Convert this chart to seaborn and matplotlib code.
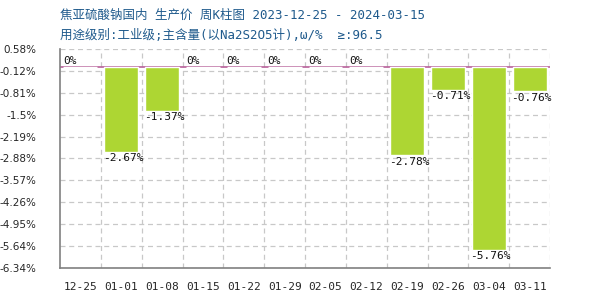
import matplotlib
matplotlib.use("Agg")
import matplotlib.pyplot as plt
import seaborn as sns
import pandas as pd

dates = ["12-25", "01-01", "01-08", "01-15", "01-22", "01-29", "02-05", "02-12",
         "02-19", "02-26", "03-04", "03-11"]
values = [0, -2.67, -1.37, 0, 0, 0, 0, 0, -2.78, -0.71, -5.76, -0.76]
yticks = [0.58, -0.12, -0.81, -1.5, -2.19, -2.88, -3.57, -4.26, -4.95, -5.64, -6.34]
title1 = "焦亚硫酸钠国内 生产价 周K柱图 2023-12-25 - 2024-03-15"
title2 = "用途级别:工业级;主含量(以Na2S2O5计),ω/%  ≥:96.5"

sns.set_style("white")
plt.rcParams['font.family'] = ['Noto Sans CJK SC', 'DejaVu Sans']
MIX = ['DejaVu Sans Mono', 'Noto Sans CJK SC']

df = pd.DataFrame({"date": dates, "value": values})

fig = plt.figure(figsize=(6, 3), dpi=100)
ax = fig.add_axes([0.1, 0.107, 0.817, 0.73])

sns.barplot(data=df, x="date", y="value", color="#add633", width=0.83,
            saturation=1, ax=ax, zorder=3)

ax.set_xlim(-0.5, len(dates) - 0.5)
ax.set_ylim(yticks[-1], yticks[0])
ax.set_yticks(yticks)
ax.set_yticklabels([f"{t:g}%" for t in yticks], family="DejaVu Sans", fontsize=7.5)
ax.set_xticks(range(len(dates)))
ax.set_xticklabels(dates, family="DejaVu Sans Mono", fontsize=8)
ax.tick_params(axis="both", length=0)
ax.tick_params(axis="x", pad=10)
ax.tick_params(axis="y", pad=17)
ax.set_xlabel("")
ax.set_ylabel("")

# grid
for t in yticks:
    ax.axhline(t, color="#c8c8c8", ls=(0, (4, 3)), lw=0.9, zorder=1)
for i in range(len(dates)):
    ax.axvline(i + 0.5, color="#c8c8c8", ls=(0, (4, 3)), lw=0.9, zorder=1)
ax.axhline(0, color="#b8609a", lw=1.2, zorder=2)

for s in ["top", "right"]:
    ax.spines[s].set_visible(False)
for s in ["left", "bottom"]:
    ax.spines[s].set_color("#808080")
    ax.spines[s].set_linewidth(1.2)

for i, v in enumerate(values):
    if v == 0:
        ax.text(i - 0.42, 0.05, "0%", ha="left", va="bottom",
                family="DejaVu Sans Mono", fontsize=8, color="#111111", zorder=4)
    else:
        ax.text(i - 0.45, v - 0.05, f"{v:.2f}%", ha="left", va="top",
                family="DejaVu Sans Mono", fontsize=8, color="#111111", zorder=4)

fig.text(0.1, 0.948, title1, fontsize=9, color="#1f5a8c", ha="left", va="center",
         family=MIX)
fig.text(0.1, 0.882, title2, fontsize=9, color="#1f5a8c", ha="left", va="center",
         family=MIX)

fig.savefig("out.png", dpi=100)
